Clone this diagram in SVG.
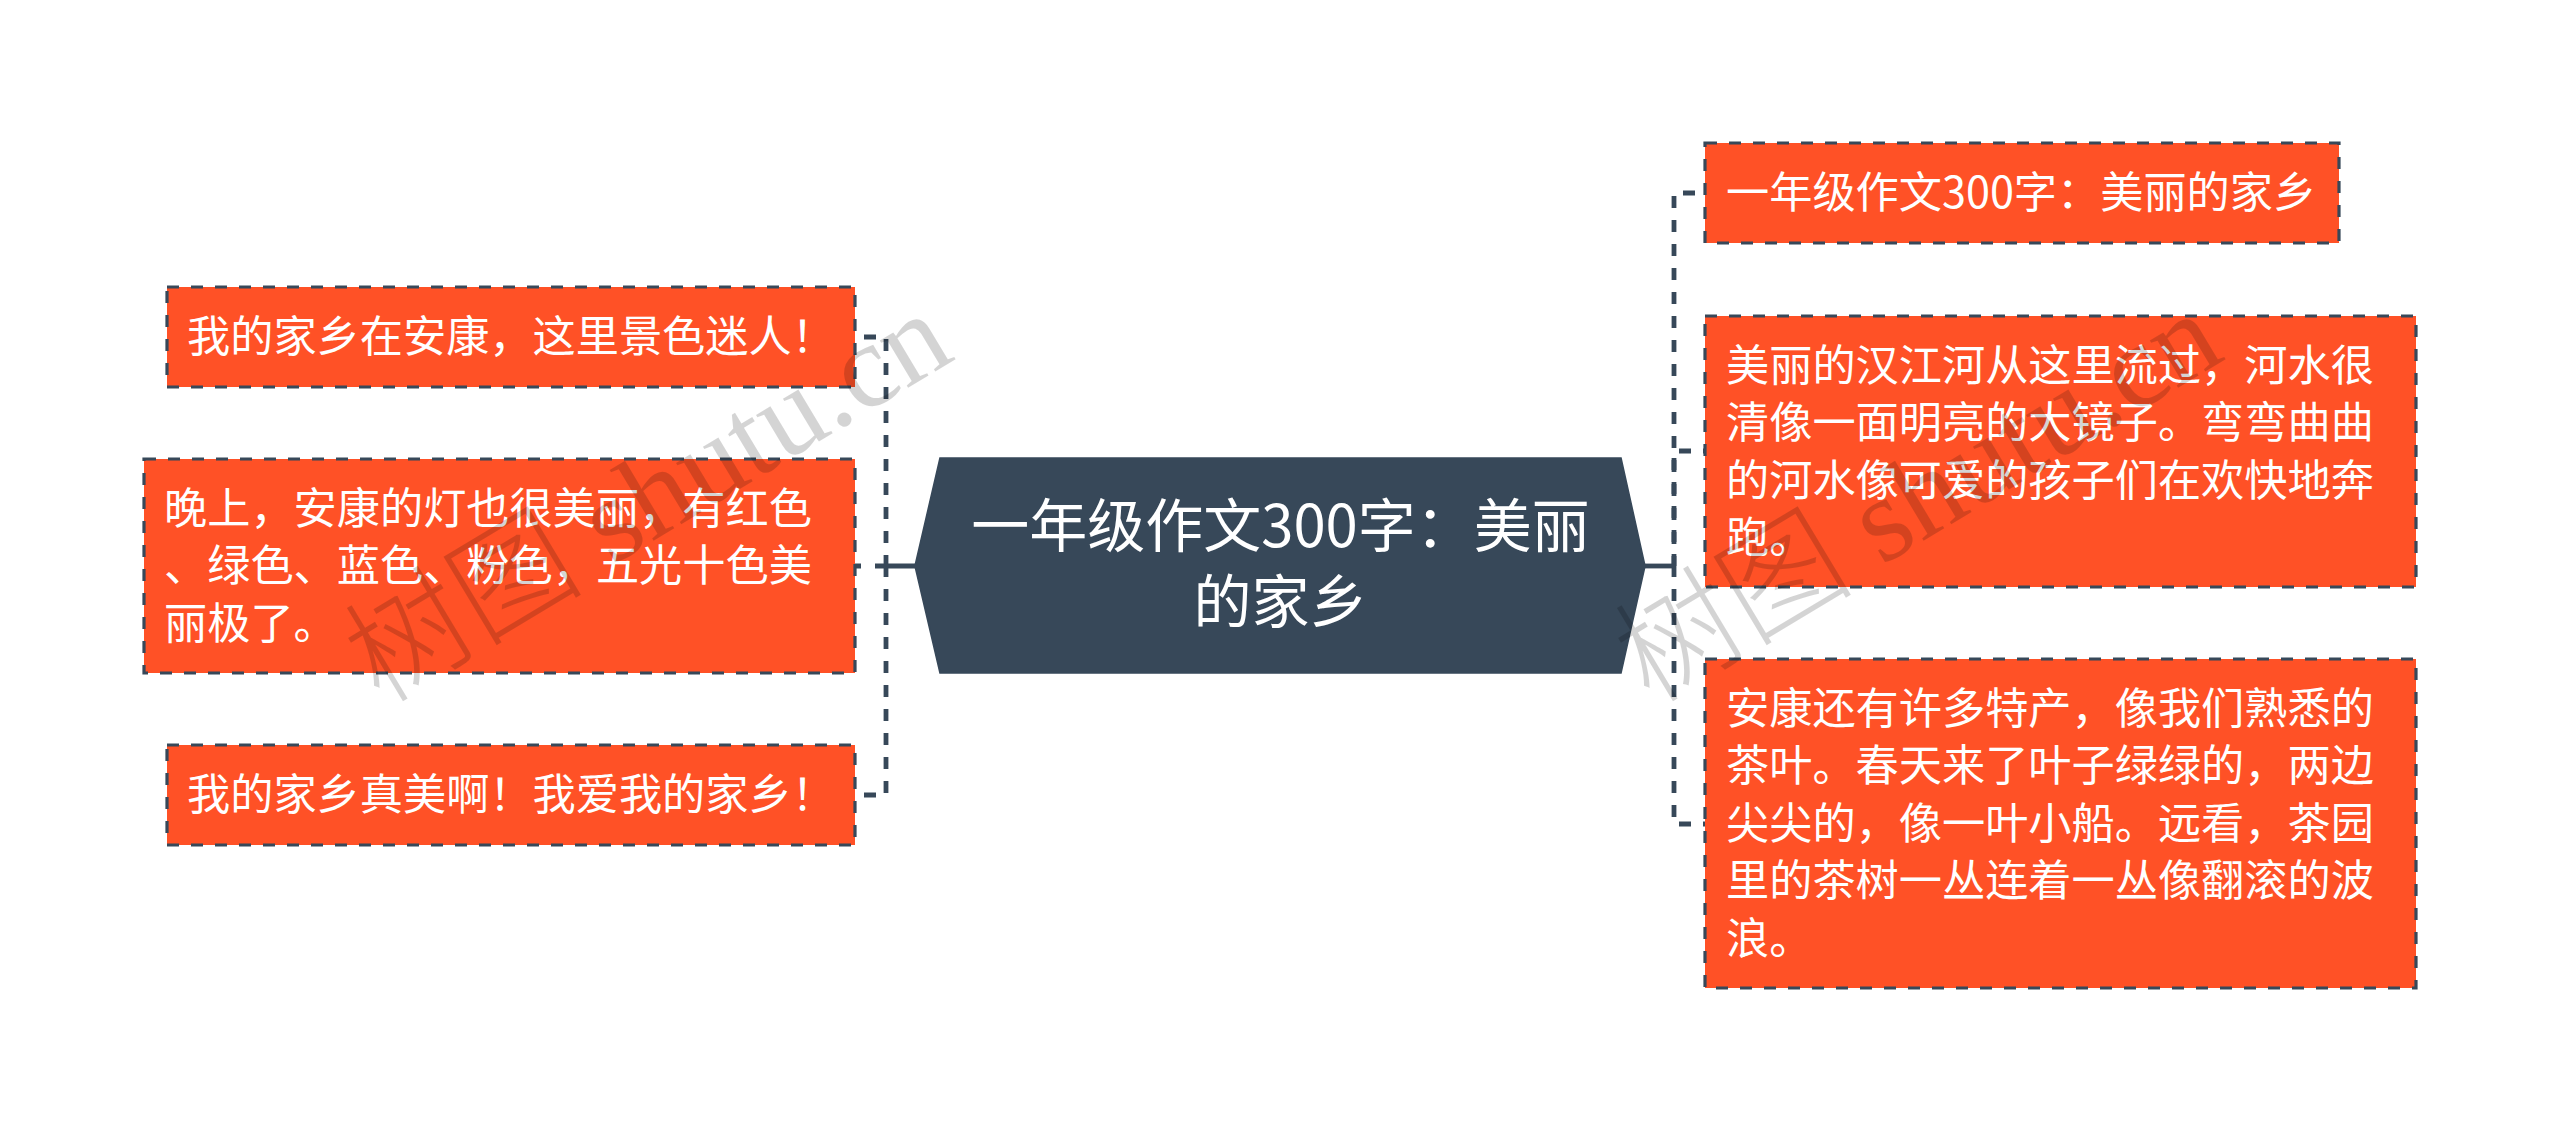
<svg xmlns="http://www.w3.org/2000/svg" width="2560" height="1132" viewBox="0 0 2560 1132">
<style>
text{font-family:"Noto Sans CJK SC","Noto Sans",sans-serif;fill:#fff}
.b{fill:#ff5126;stroke:#374859;stroke-width:3.2;stroke-dasharray:12 12}
.t{font-size:43.2px}
.c{font-size:58px;text-anchor:middle}
.d{fill:none;stroke:#374859;stroke-width:4.8}
.wm{font-size:120px;font-weight:300;fill:#000;fill-opacity:.17;font-family:"Liberation Serif","Noto Sans CJK SC",serif}
</style>
<rect width="2560" height="1132" fill="#fff"/>
<g id="connectors">
<path class="d" stroke-dasharray="12 12" stroke-dashoffset="15" d="M855 337H886V566"/>
<path class="d" stroke-dasharray="12 12" stroke-dashoffset="15" d="M855 795H886V566"/>
<path class="d" d="M855 566H861M875 566H915"/>
<path class="d" stroke-dasharray="12 12" stroke-dashoffset="14" d="M1705 193H1674V566"/>
<path class="d" stroke-dasharray="12 12" stroke-dashoffset="10" d="M1705 451H1674V566"/>
<path class="d" stroke-dasharray="12 12" stroke-dashoffset="10" d="M1705 824H1674V566"/>
<path class="d" d="M1645 566H1674"/>
</g>
<g id="root">
<polygon points="915,566 940,458 1621,458 1645,566 1621,673 940,673" fill="#374859" stroke="#374859" stroke-width="1.6"/>
<text class="c" x="1280.5" y="547">一年级作文300字：美丽</text>
<text class="c" x="1280.5" y="623">的家乡</text>
</g>
<g id="left-1">
<rect class="b" x="167" y="287" width="688" height="100"/>
<text class="t" x="187" y="352">我的家乡在安康，这里景色迷人！</text>
</g>
<g id="left-2">
<rect class="b" x="144" y="459" width="711" height="214"/>
<text class="t" x="164" y="524">晚上，安康的灯也很美丽，有红色</text>
<text class="t" x="164" y="581">、绿色、蓝色、粉色，五光十色美</text>
<text class="t" x="164" y="639">丽极了。</text>
</g>
<g id="left-3">
<rect class="b" x="167" y="745" width="688" height="100"/>
<text class="t" x="187" y="810">我的家乡真美啊！我爱我的家乡！</text>
</g>
<g id="right-1">
<rect class="b" x="1705" y="143" width="634" height="100"/>
<text class="t" x="1726" y="208">一年级作文300字：美丽的家乡</text>
</g>
<g id="right-2">
<rect class="b" x="1705" y="316" width="711" height="271"/>
<text class="t" x="1726" y="381">美丽的汉江河从这里流过，河水很</text>
<text class="t" x="1726" y="438">清像一面明亮的大镜子。弯弯曲曲</text>
<text class="t" x="1726" y="496">的河水像可爱的孩子们在欢快地奔</text>
<text class="t" x="1726" y="553">跑。</text>
</g>
<g id="right-3">
<rect class="b" x="1705" y="659" width="711" height="329"/>
<text class="t" x="1726" y="724">安康还有许多特产，像我们熟悉的</text>
<text class="t" x="1726" y="781">茶叶。春天来了叶子绿绿的，两边</text>
<text class="t" x="1726" y="839">尖尖的，像一叶小船。远看，茶园</text>
<text class="t" x="1726" y="896">里的茶树一丛连着一丛像翻滚的波</text>
<text class="t" x="1726" y="954">浪。</text>
</g>
<g id="watermark">
<text class="wm" transform="translate(380 705) rotate(-31)">树图 shutu.cn</text>
<text class="wm" transform="translate(1650 705) rotate(-31)">树图 shutu.cn</text>
</g>
</svg>
